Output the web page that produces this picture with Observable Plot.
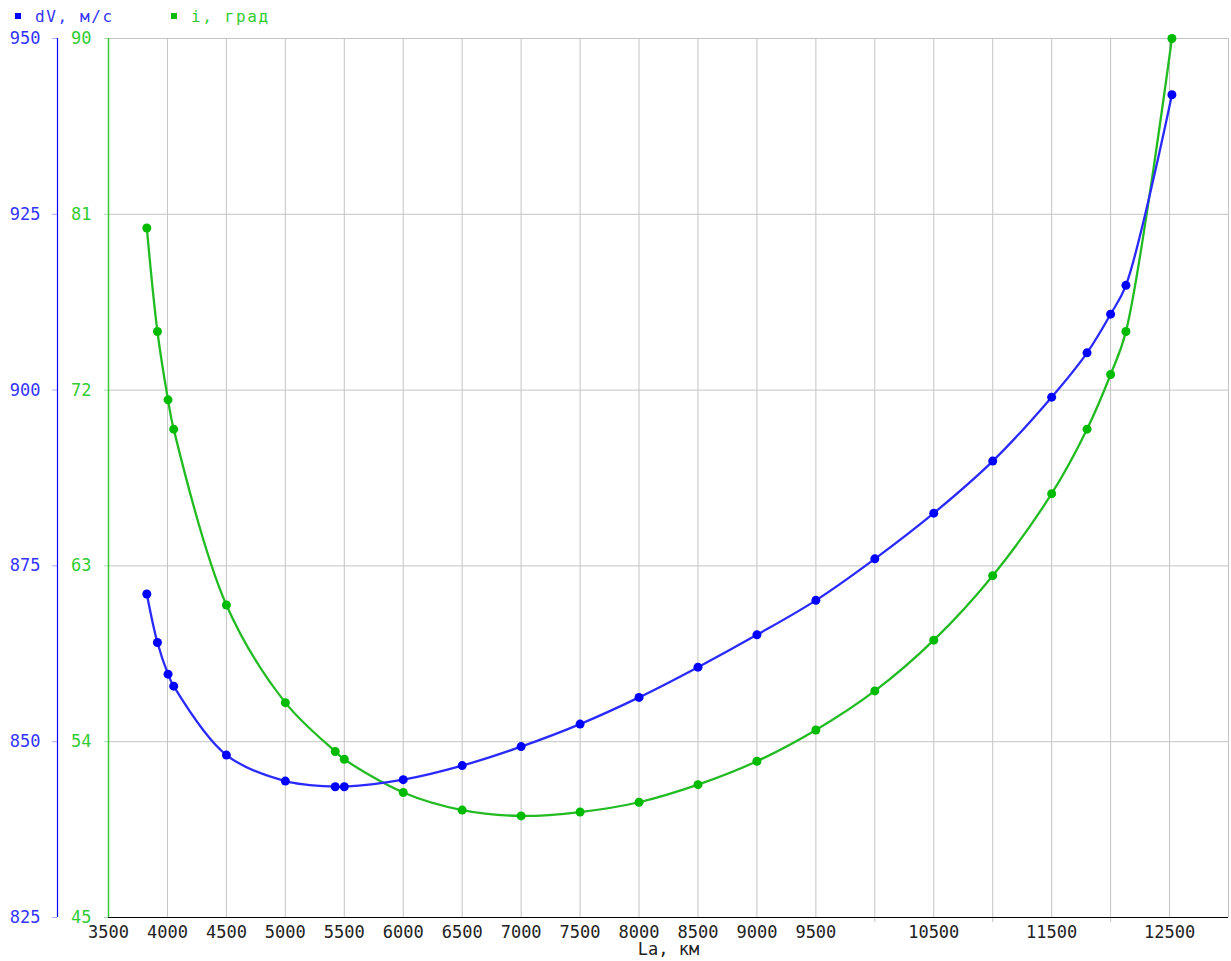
<!DOCTYPE html>
<html>
<head>
<meta charset="utf-8">
<script src="https://cdn.jsdelivr.net/npm/d3@7"></script>
<script src="https://cdn.jsdelivr.net/npm/@observablehq/plot@0.6"></script>
<style>
  html, body { margin: 0; padding: 0; background: #fff; }
  #legend { position: relative; height: 28px; font-family: "DejaVu Sans Mono", monospace; font-size: 16px; letter-spacing: 1.6px; }
  .item { position: absolute; top: 7px; white-space: nowrap; }
  .sw { display: inline-block; width: 6px; height: 6px; margin-right: 14px; vertical-align: 3px; }
</style>
</head>
<body>
<div id="legend"></div>
<div id="chart"></div>
<script>
// Series data
const La = [3825, 3915, 4005, 4053, 4500, 5000, 5423, 5500, 6000, 6500, 7000, 7500, 8000, 8500, 9000, 9500, 10000, 10500, 11000, 11500, 11800, 12000, 12130, 12520];
const dV = [871.0, 864.1, 859.6, 857.9, 848.1, 844.4, 843.6, 843.6, 844.6, 846.6, 849.3, 852.5, 856.3, 860.6, 865.2, 870.1, 876.0, 882.5, 889.9, 899.0, 905.3, 910.8, 914.9, 942.0];
const incl = [80.3, 75.0, 71.5, 70.0, 61.0, 56.0, 53.5, 53.1, 51.4, 50.5, 50.2, 50.4, 50.9, 51.8, 53.0, 54.6, 56.6, 59.2, 62.5, 66.7, 70.0, 72.8, 75.0, 90.0];

// Axis ticks
const xGridTicks = d3.range(3500, 13001, 500);
const xLabelTicks = [3500, 4000, 4500, 5000, 5500, 6000, 6500, 7000, 7500, 8000, 8500, 9000, 9500, 10500, 11500, 12500];
const xUnlabeledTicks = [10000, 11000, 12000];
const dVTicks = [825, 850, 875, 900, 925, 950];
const iTicks = [45, 54, 63, 72, 81, 90];

const dVDomain = [825, 950];
const iDomain = [45, 90];
const series = [
  {name: "dV, м/с", color: "#0000ff", line: "#2a2aff", label: "#3333ff"},
  {name: "i, град", color: "#00bb00", line: "#22bb22", label: "#33cc33"}
];

// map inclination onto the dV scale (secondary axis)
const iToDv = d3.scaleLinear().domain(iDomain).range(dVDomain);

const blueData = La.map((x, k) => ({x, y: dV[k]}));
const greenData = La.map((x, k) => ({x, y: iToDv(incl[k])}));

// legend
const legend = document.getElementById("legend");
const legendX = [15, 171];
series.forEach((s, k) => {
  const el = document.createElement("div");
  el.className = "item";
  el.style.left = legendX[k] + "px";
  el.style.color = s.label;
  el.innerHTML = `<span class="sw" style="background:${s.color}"></span>${s.name}`;
  legend.appendChild(el);
});

const chart = Plot.plot({
  width: 1231,
  height: 933,
  marginLeft: 108,
  marginRight: 3,
  marginTop: 10,
  marginBottom: 44,
  style: {fontFamily: "DejaVu Sans Mono, monospace", fontSize: "17px", background: "#fff"},
  x: {type: "linear", domain: [3500, 13000]},
  y: {type: "linear", domain: dVDomain},
  marks: [
    Plot.gridX(xGridTicks, {stroke: "#c4c4c4", strokeOpacity: 1}),
    Plot.gridY(dVTicks, {stroke: "#c4c4c4", strokeOpacity: 1}),
    Plot.axisX(xUnlabeledTicks, {tickSize: 5, stroke: "#c4c4c4", tickFormat: () => "", label: null}),
    Plot.axisX(xLabelTicks, {tickSize: 0, tickPadding: 8, fill: "#222", tickFormat: d => String(d), label: "La, км", labelAnchor: "center", labelArrow: "none", labelOffset: 37}),
    Plot.axisY(dVTicks, {anchor: "left", dx: -51, tickSize: 5, tickPadding: 12, stroke: "#aaaaff", fill: series[0].label, tickFormat: d => String(d), label: null}),
    Plot.axisY(iTicks.map(iToDv), {anchor: "left", tickSize: 4, tickPadding: 13, stroke: "#aaddaa", fill: series[1].label, tickFormat: d => String(Math.round(iToDv.invert(d))), label: null}),
    Plot.ruleX([3500], {dx: -51, stroke: series[0].color, strokeWidth: 1.2}),
    Plot.ruleX([3500], {stroke: "#33cc33", strokeWidth: 1.5}),
    Plot.ruleY([825], {stroke: "#000", strokeWidth: 1.2}),
    Plot.line(greenData, {x: "x", y: "y", stroke: series[1].line, strokeWidth: 2.3, curve: "catmull-rom"}),
    Plot.line(blueData, {x: "x", y: "y", stroke: series[0].line, strokeWidth: 2.3, curve: "catmull-rom"}),
    Plot.dot(greenData, {x: "x", y: "y", r: 4.5, fill: series[1].color, stroke: "none"}),
    Plot.dot(blueData, {x: "x", y: "y", r: 4.5, fill: series[0].color, stroke: "none"})
  ]
});
document.getElementById("chart").appendChild(chart);
</script>
</body>
</html>
